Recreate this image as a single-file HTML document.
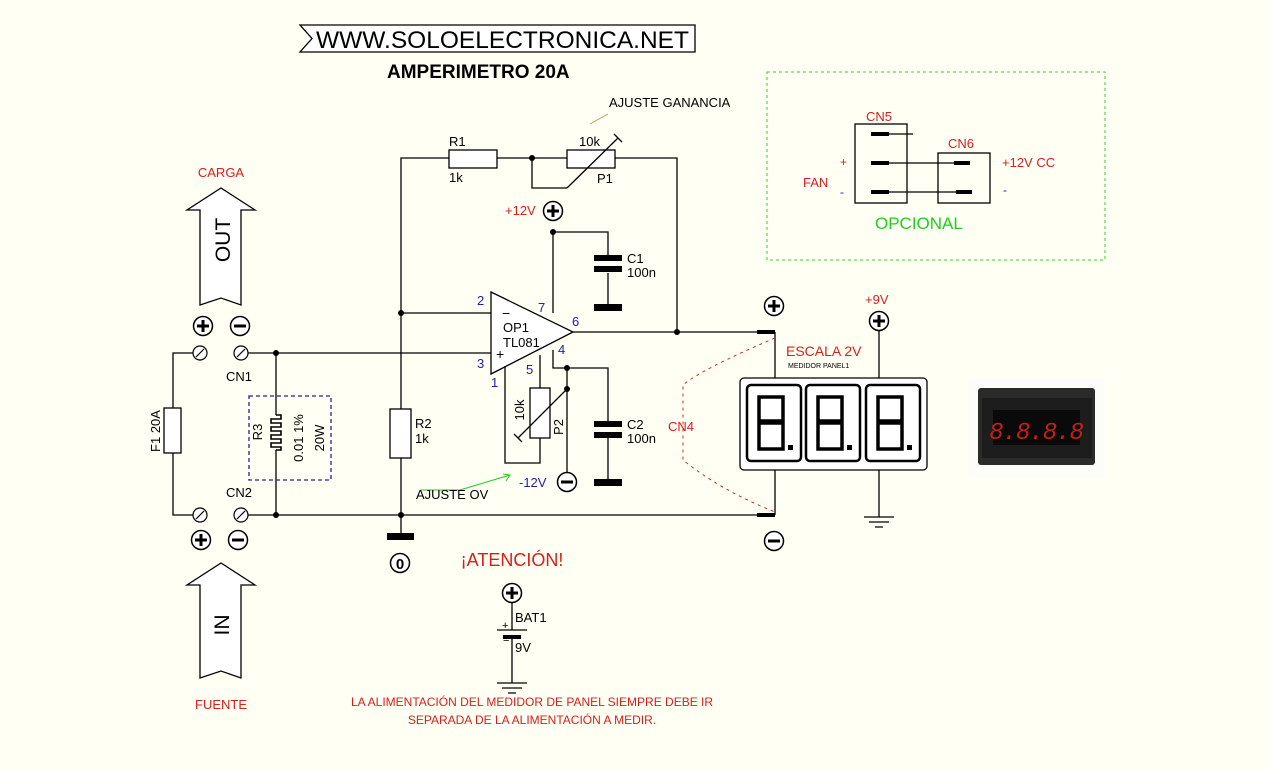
<!DOCTYPE html>
<html><head><meta charset="utf-8"><style>
html,body{margin:0;padding:0;background:#fffff4;}
svg{display:block;font-family:"Liberation Sans",Arial,sans-serif;}
</style></head><body>
<svg width="1271" height="771" viewBox="0 0 1271 771" xmlns="http://www.w3.org/2000/svg">
<defs>
<g id="pl"><circle r="9.5" fill="#fff" stroke="#000" stroke-width="1.5"/><path d="M-6 0H6M0 -6V6" stroke="#000" stroke-width="3"/></g>
<g id="mi"><circle r="9.5" fill="#fff" stroke="#000" stroke-width="1.5"/><path d="M-6 0H6" stroke="#000" stroke-width="3"/></g>
<g id="sc"><circle r="7" fill="#fff" stroke="#000" stroke-width="1.2"/><path d="M-4 4L4 -4" stroke="#000" stroke-width="1.2"/></g>
<g id="dig" fill="none" stroke="#000" stroke-width="2.5"><rect x="0" y="0" width="54" height="76" rx="4"/><path d="M12 12h24v24h-24zM12 38h24v26h-24z" stroke-width="3.5"/><rect x="41" y="60" width="5" height="5" fill="#000" stroke="none"/></g>
</defs>
<rect width="1271" height="771" fill="#fffff4"/>
<g stroke="#000" stroke-width="1.3" fill="none">
<path d="M300 25H695V52H300L312 38.5Z" fill="#fff"/>
<path d="M401 515V158H449M497 158H567M615 158H677V332"/>
<path d="M532 158V188H567"/>
<rect x="449" y="150" width="48" height="18" fill="#fff"/>
<rect x="567" y="150" width="48" height="18" fill="#fff"/>
<path d="M567 188L618 138M614 134L622 142"/>
<path d="M491 292L573 332L491 374Z" fill="#fff"/>
<path d="M401 313H491M248 353H491"/>
<path d="M553 313V232H608V257M608 273V305"/>
<path d="M553 350V368H608V424M608 434V482"/>
<path d="M567 368V473"/>
<path d="M573 332H757"/>
<path d="M540 355V388M540 438V463H505V366"/>
<rect x="530" y="388" width="20" height="50" fill="#fff"/>
<path d="M567 389L518 438M514 434L522 442"/>
<rect x="390" y="409" width="21" height="49" fill="#fff"/>
<path d="M248 515H757M401 515V535"/>
<path d="M193 353H173V515H193"/>
<rect x="164" y="408" width="17" height="45" fill="#fff"/>
<path d="M276 353V415M276 450V515"/>
<path d="M276 415h5v4h-10v4h10v4h-10v4h10v4h-10v4h10v4h-10v4h10v3h-5" stroke-width="1.6"/>
<rect x="249" y="396" width="82" height="84" stroke="#22228a" stroke-dasharray="4,3"/>
<path d="M200 305V210H187L221 188L255 210H241V305L221 298Z" fill="#fff"/>
<path d="M200 678V585H187L221 563L255 585H241V678L221 671Z" fill="#fff"/>
<path d="M775 332V378M775 470V515M879 331V378M879 470V517"/>
<path d="M864 517h30M869 522h20M875 527h8"/>
<rect x="740" y="378" width="187" height="92" rx="4" fill="#fff"/>
<path d="M512 603V630M497 630H527M512 637V683M497 683h30M502 688h20M508 693h8"/>
<rect x="855" y="124" width="52" height="79"/>
<rect x="938" y="153" width="52" height="50"/>
<path d="M880 134H913M880 163H958M880 192H960"/>
</g>
<g fill="#000">
<rect x="594" y="255" width="28" height="6"/><rect x="594" y="266" width="28" height="6"/><rect x="594" y="304" width="28" height="7"/>
<rect x="594" y="421" width="28" height="6"/><rect x="594" y="432" width="28" height="6"/><rect x="594" y="479" width="28" height="7"/>
<rect x="387" y="533" width="27" height="7"/>
<rect x="757" y="330" width="18" height="4"/><rect x="757" y="513" width="18" height="4"/>
<rect x="503" y="635" width="18" height="4"/>
<rect x="871" y="132" width="18" height="4"/><rect x="871" y="161" width="18" height="4"/><rect x="871" y="190" width="18" height="4"/>
<rect x="954" y="161" width="16" height="4"/><rect x="956" y="190" width="16" height="4"/>
<circle cx="532" cy="158" r="3"/><circle cx="401" cy="313" r="3"/><circle cx="553" cy="232" r="3"/>
<circle cx="677" cy="332" r="3"/><circle cx="567" cy="368" r="3"/><circle cx="567" cy="389" r="3"/>
<circle cx="276" cy="353" r="3"/><circle cx="276" cy="515" r="3"/><circle cx="401" cy="515" r="3"/>
</g>
<use href="#sc" x="200" y="353"/><use href="#sc" x="241" y="353"/><use href="#sc" x="200" y="515"/><use href="#sc" x="241" y="515"/>
<use href="#pl" x="203" y="326"/><use href="#mi" x="240" y="326"/><use href="#pl" x="201" y="540"/><use href="#mi" x="238" y="540"/>
<use href="#pl" x="553" y="211"/><use href="#mi" x="567" y="482"/><use href="#pl" x="774" y="306"/><use href="#mi" x="774" y="541"/>
<use href="#pl" x="879" y="321"/><use href="#pl" x="512" y="593"/>
<circle cx="400" cy="563" r="9.5" fill="#fff" stroke="#000" stroke-width="1.5"/>
<text x="400" y="569" font-size="15" font-weight="bold" text-anchor="middle">0</text>
<use href="#dig" x="747" y="385"/><use href="#dig" x="806" y="385"/><use href="#dig" x="866" y="385"/>
<path d="M775 338Q700 370 683 385V460Q720 490 775 512" fill="none" stroke="#c0302a" stroke-width="1" stroke-dasharray="3,4"/>
<rect x="767" y="72" width="338" height="188" fill="none" stroke="#3c3" stroke-width="1" stroke-dasharray="3,3"/>
<rect x="968" y="378" width="137" height="100" fill="#fcfcf8"/>
<rect x="978" y="388" width="117" height="77" rx="3" fill="#2b2b2b"/>
<rect x="982" y="398" width="110" height="60" fill="#1d1d1d"/>
<rect x="993" y="410" width="87" height="35" fill="#0a0a0a"/>
<text x="1036" y="439" font-size="24" font-style="italic" fill="#c3201a" text-anchor="middle" font-family="Liberation Mono,monospace" letter-spacing="-1">8.8.8.8</text>
<path d="M420 490H460L510 475M503 474L510 475L506 481" fill="none" stroke="#2c2" stroke-width="1"/>
<path d="M590 124L608 114" stroke="#d09050" stroke-width="1"/>
<text x="316" y="48" font-size="24.5">WWW.SOLOELECTRONICA.NET</text>
<text x="387" y="78" font-size="19" font-weight="bold">AMPERIMETRO 20A</text>
<g font-size="13">
<text x="609" y="107">AJUSTE GANANCIA</text>
<text x="449" y="146">R1</text><text x="449" y="182">1k</text>
<text x="579" y="146">10k</text><text x="597" y="183">P1</text>
<text x="627" y="263">C1</text><text x="627" y="277">100n</text>
<text x="627" y="429">C2</text><text x="627" y="443">100n</text>
<text x="415" y="428">R2</text><text x="415" y="443">1k</text>
<text x="503" y="332">OP1</text><text x="503" y="347">TL081</text>
<text x="416" y="499">AJUSTE OV</text>
<text x="226" y="381">CN1</text><text x="226" y="497">CN2</text>
<text x="515" y="622">BAT1</text><text x="515" y="652">9V</text>
<text x="502" y="318" font-size="14">−</text><text x="496" y="359" font-size="14">+</text>
<text x="502" y="629" font-size="11">+</text><text x="503" y="644" font-size="11">−</text>
<text transform="translate(160 431) rotate(-90)" text-anchor="middle">F1  20A</text>
<text transform="translate(262 432) rotate(-90)" text-anchor="middle">R3</text>
<text transform="translate(303 438) rotate(-90)" text-anchor="middle">0.01 1%</text>
<text transform="translate(324 438) rotate(-90)" text-anchor="middle">20W</text>
<text transform="translate(524 410) rotate(-90)" text-anchor="middle">10k</text>
<text transform="translate(563 427) rotate(-90)" text-anchor="middle">P2</text>
</g>
<g font-size="13" fill="#2222aa">
<text x="477" y="305">2</text><text x="477" y="368">3</text><text x="538" y="312">7</text>
<text x="572" y="326">6</text><text x="558" y="354">4</text><text x="526" y="374">5</text><text x="491" y="387">1</text>
<text x="519" y="487">-12V</text>
<text x="840" y="196" font-size="12">-</text><text x="1003" y="194" font-size="12">-</text>
</g>
<g fill="#d42020">
<text x="505" y="215" font-size="13">+12V</text>
<text x="221" y="177" font-size="13" text-anchor="middle">CARGA</text>
<text x="221" y="709" font-size="13" text-anchor="middle">FUENTE</text>
<text x="512" y="566" font-size="18" text-anchor="middle">¡ATENCIÓN!</text>
<text x="532" y="706" font-size="12" text-anchor="middle">LA ALIMENTACIÓN DEL MEDIDOR DE PANEL SIEMPRE DEBE IR</text>
<text x="532" y="724" font-size="12" text-anchor="middle">SEPARADA DE LA ALIMENTACIÓN A MEDIR.</text>
<text x="668" y="431" font-size="13">CN4</text>
<text x="865" y="304" font-size="13">+9V</text>
<text x="786" y="356" font-size="14">ESCALA 2V</text>
<text x="866" y="121" font-size="13">CN5</text><text x="948" y="148" font-size="13">CN6</text>
<text x="840" y="166" font-size="12">+</text>
<text x="803" y="187" font-size="13">FAN</text>
<text x="1002" y="167" font-size="13">+12V CC</text>
</g>
<text x="788" y="368" font-size="7">MEDIDOR PANEL1</text>
<text x="875" y="229" font-size="17" fill="#2c2">OPCIONAL</text>
<text transform="translate(230 240) rotate(-90)" font-size="21" text-anchor="middle">OUT</text>
<text transform="translate(229 625) rotate(-90)" font-size="21" text-anchor="middle">IN</text>
</svg>
</body></html>
